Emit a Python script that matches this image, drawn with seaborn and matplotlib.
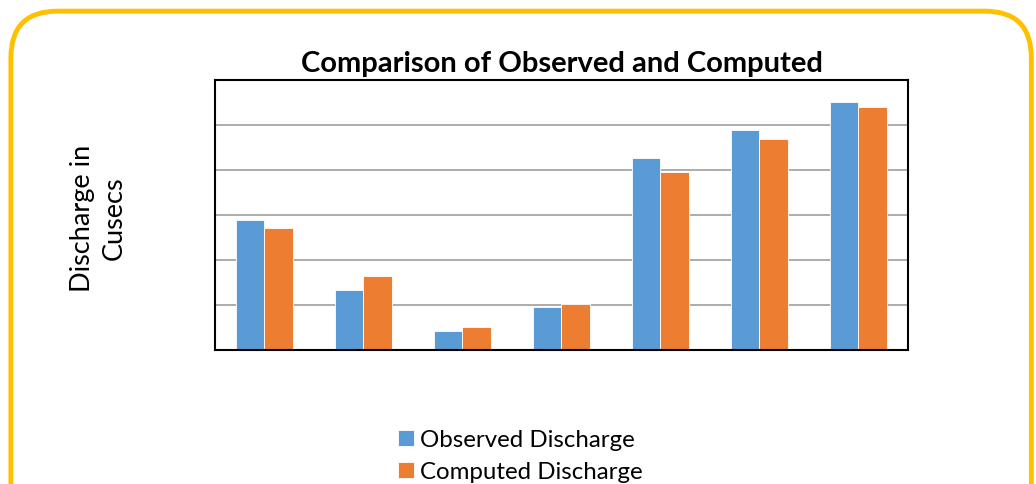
import matplotlib
matplotlib.use("Agg")
import matplotlib.pyplot as plt
from matplotlib.patches import FancyBboxPatch
import seaborn as sns
import pandas as pd

# Discharge values per event, in gridline units
events = ["E1", "E2", "E3", "E4", "E5", "E6", "E7"]
observed = [2.88, 1.33, 0.41, 0.96, 4.25, 4.88, 5.50]
computed = [2.70, 1.64, 0.50, 1.02, 3.95, 4.68, 5.39]
series = ["Observed Discharge", "Computed Discharge"]
colors = ["#5B9BD5", "#ED7D31"]

df = pd.DataFrame({
    "event": events * 2,
    "value": observed + computed,
    "series": [series[0]] * len(events) + [series[1]] * len(events),
})

sns.set_theme(style="white")
plt.rcParams["font.family"] = ["Lato", "DejaVu Sans"]
plt.rcParams["text.color"] = "black"

fig = plt.figure(figsize=(10.36, 4.85), dpi=100)
ax = fig.add_axes([0.2075, 0.2769, 0.6689, 0.5567])

sns.barplot(data=df, x="event", y="value", hue="series", order=events,
            hue_order=series, palette=colors, saturation=1, width=0.57,
            gap=0, edgecolor="white", linewidth=0.6, ax=ax, legend=True)

ax.set_ylim(0, 6)
ax.set_xlim(-0.5, len(events) - 0.5)
ax.set_yticks([1, 2, 3, 4, 5])
ax.set_yticklabels([])
ax.set_xticks([])
ax.tick_params(left=False, bottom=False)
ax.yaxis.grid(True, color="#A6A6A6", linewidth=1.3)
ax.set_axisbelow(True)
ax.set_xlabel("")
ax.set_ylabel("")
for s in ax.spines.values():
    s.set_visible(True)
    s.set_color("black")
    s.set_linewidth(1.5)

ax.set_title("Comparison of Observed and Computed", fontsize=21,
             fontweight="bold", color="black", pad=6)

fig.text(0.095, 0.55, "Discharge in\nCusecs", rotation=90, ha="center",
         va="center", fontsize=19.5, linespacing=1.3, color="black")

handles, labels = ax.get_legend_handles_labels()
ax.get_legend().remove()
fig.legend(handles, labels, loc="center", bbox_to_anchor=(0.502, 0.058),
           frameon=False, fontsize=17.3, handlelength=0.65,
           handleheight=0.65, handletextpad=0.25, labelspacing=0.45,
           borderaxespad=0)

# rounded outer frame
frame = FancyBboxPatch((0.0105, -0.1), 0.985, 1.075,
                       boxstyle="round,pad=0,rounding_size=0.045",
                       transform=fig.transFigure, fill=False,
                       edgecolor="#FFC000", linewidth=3.5,
                       mutation_aspect=1036 / 485)
fig.patches.append(frame)

fig.savefig("out.png", dpi=100)
